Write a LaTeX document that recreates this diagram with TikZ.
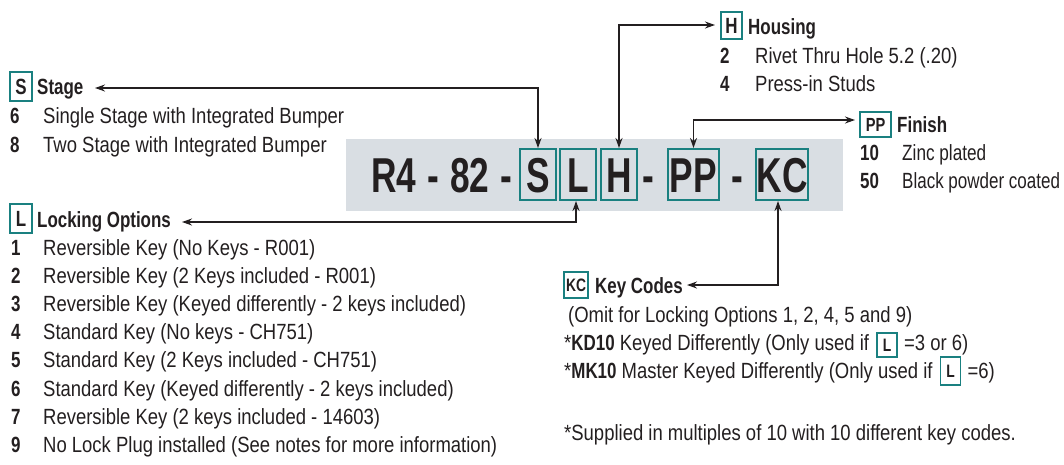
\documentclass[tikz,border=0pt]{standalone}
\usepackage{fontspec}
\usepackage{graphicx}
\setmainfont{Liberation Sans}[FakeStretch=0.84]
\newfontfamily\headfont{Liberation Sans}[FakeStretch=0.77]
\newfontfamily\bigfont{Liberation Sans}[FakeStretch=0.72]
\usetikzlibrary{arrows.meta}
\definecolor{tealc}{HTML}{1A8080}
\definecolor{grayc}{HTML}{D9DEE3}
\definecolor{ink}{HTML}{231F20}
\tikzset{
  txt/.style={anchor=base west, inner sep=0pt, text=ink, font=\fontsize{22}{26}\selectfont},
  num/.style={anchor=base west, inner sep=0pt, text=ink, font=\headfont\fontsize{22}{26}\selectfont\bfseries},
  head/.style={anchor=base west, inner sep=0pt, text=ink, font=\headfont\fontsize{22}{26}\selectfont\bfseries},
  hbox/.style={draw=tealc, line width=1.6pt, inner sep=0pt, text=ink, text height=16pt, text depth=0pt, font=\headfont\fontsize{22}{26}\selectfont\bfseries},
  bigbox/.style={draw=tealc, line width=2pt, inner sep=0pt, minimum height=51pt, text=ink, text height=35pt, text depth=0pt, font=\bigfont\fontsize{49}{50}\selectfont\bfseries},
  bigtxt/.style={inner sep=0pt, text=ink, font=\bigfont\fontsize{49}{50}\selectfont\bfseries},
  darr/.style={draw=ink, line width=1.3pt, {Stealth[length=10pt,width=7pt]}-{Stealth[length=10pt,width=7pt]}}
}
\begin{document}
\begin{tikzpicture}[x=1pt,y=-1pt]
\useasboundingbox (0,0) rectangle (1064,464);
% gray code bar
\fill[grayc] (346,139) rectangle (843,211);
\node[bigtxt, anchor=base west] (pre) at (371,192.5) {R4\hspace{11pt}-\hspace{11pt}82\hspace{11pt}-};
\node[bigbox, minimum width=36pt] (bigS) at (538,174.5) {S};
\node[bigbox, minimum width=36pt] (bigL) at (578,174.5) {L};
\node[bigbox, minimum width=36pt] (bigH) at (619,174.5) {H};
\node[bigtxt, anchor=base] (d1) at (648.5,192.5) {-};
\node[bigbox, minimum width=51pt] (bigPP) at (693.5,174.5) {PP};
\node[bigtxt, anchor=base] (d2) at (737,192.5) {-};
\node[bigbox, minimum width=52pt] (bigKC) at (782,174.5) {KC};

% Stage
\node[hbox, minimum width=22pt, minimum height=29pt] (sbox) at (21,86.5) {S};
\node[head] (stage) at (37,94) {Stage};
\node[num] (s6) at (10,123) {6};
\node[txt] (s6t) at (43,123) {Single Stage with Integrated Bumper};
\node[num] (s8) at (10,152) {8};
\node[txt] (s8t) at (43,152) {Two Stage with Integrated Bumper};
\coordinate (sarr) at (95,88);
\draw[darr] (bigS.north) |- (sarr);

% Housing
\node[hbox, minimum width=21pt, minimum height=27pt] (hbox) at (731.5,25.5) {H};
\node[head] (housing) at (748,34) {Housing};
\node[num] (h2) at (720,63) {2};
\node[txt] (h2t) at (755,63) {Rivet Thru Hole 5.2 (.20)};
\node[num] (h4) at (720,91) {4};
\node[txt] (h4t) at (755,91) {Press-in Studs};
\coordinate (harr) at (715,25);
\draw[darr] (bigH.north) |- (harr);

% Finish
\node[hbox, minimum width=31pt, minimum height=25pt, font=\headfont\fontsize{19}{22}\selectfont\bfseries, text height=14pt] (pbox) at (875.5,124.5) {PP};
\node[head] (finish) at (897,132) {Finish};
\node[num] (f10) at (860,160) {10};
\node[txt] (f10t) at (902,160) {\scalebox{0.93}[1]{Zinc plated}};
\node[num] (f50) at (860,188) {50};
\node[txt] (f50t) at (902,188) {\scalebox{0.92}[1]{Black powder coated}};
\coordinate (parr) at (855,120);
\draw[darr] (bigPP.north) |- (parr);

% Locking options
\node[hbox, minimum width=22pt, minimum height=29pt] (lbox) at (21,218.5) {L};
\node[head] (locking) at (37,227) {Locking Options};
\foreach \n/\t [count=\i from 0] in {1/Reversible Key (No Keys - R001),
  2/Reversible Key (2 Keys included - R001),
  3/Reversible Key (Keyed differently - 2 keys included),
  4/Standard Key (No keys - CH751),
  5/Standard Key (2 Keys included - CH751),
  6/Standard Key (Keyed differently - 2 keys included),
  7/Reversible Key (2 keys included - 14603),
  9/No Lock Plug installed (See notes for more information)}{
  \node[num] (ln\n) at (11,255+28.2*\i) {\n};
  \node[txt] (lt\n) at (43,255+28.2*\i) {\t};
}
\coordinate (larr) at (182,222);
\draw[darr] ([xshift=-2pt]bigL.south) |- (larr);

% Key codes
\node[hbox, minimum width=24pt, minimum height=26pt, font=\headfont\fontsize{18}{22}\selectfont\bfseries, text height=13pt] (kbox) at (576,285) {KC};
\node[head] (keycodes) at (595,293) {Key Codes};
\node[txt] (k1) at (568,322) {(Omit for Locking Options 1, 2, 4, 5 and 9)};
\node[txt] (k2) at (564,350) {*{\headfont\bfseries KD10} Keyed Differently (Only used if};
\node[hbox, anchor=west, minimum width=20pt, minimum height=24pt, font=\headfont\fontsize{18}{22}\selectfont\bfseries, text height=13pt] (kl1) at ([xshift=7pt,yshift=5pt]k2.base east) {L};
\node[txt] (k2b) at ([xshift=6pt,yshift=-5pt]kl1.east) {=3 or 6)};
\node[txt] (k3) at (564,378) {*{\headfont\bfseries MK10} Master Keyed Differently (Only used if};
\node[hbox, anchor=west, minimum width=20pt, minimum height=28pt, font=\headfont\fontsize{18}{22}\selectfont\bfseries, text height=13pt] (kl2) at ([xshift=7pt,yshift=7pt]k3.base east) {L};
\node[txt] (k3b) at ([xshift=6pt,yshift=-7pt]kl2.east) {=6)};
\node[txt] (k4) at (564,440) {*Supplied in multiples of 10 with 10 different key codes.};
\coordinate (karr) at (687,285);
\draw[darr] ([xshift=-4pt]bigKC.south) |- (karr);
\end{tikzpicture}
\end{document}
